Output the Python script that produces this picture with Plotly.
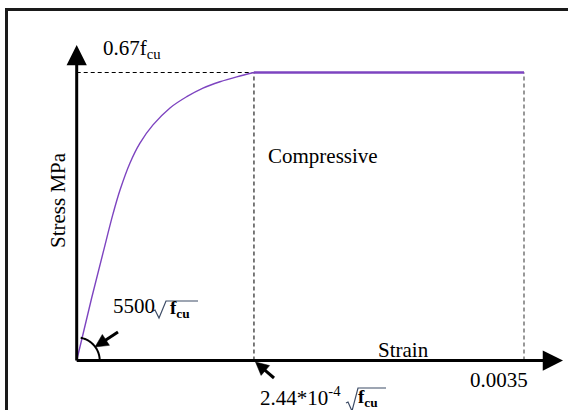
import numpy as np
import plotly.graph_objects as go

W, H = 568, 410

# Rising branch of the stress-strain curve: strain and stress as a fraction of 0.67 fcu
strain_curve = [0.0, 0.000117, 0.000208, 0.000284, 0.000339, 0.000417, 0.000495,
                0.000597, 0.000730, 0.000861, 0.000988, 0.001121, 0.001252, 0.001387]
stress_curve = [0.0, 0.217, 0.377, 0.509, 0.592, 0.686, 0.755,
                0.818, 0.877, 0.916, 0.946, 0.968, 0.985, 1.0]
strain_peak = 0.001387   # 2.44e-4 * sqrt(fcu)
strain_ult = 0.0035
stress_peak = 1.0

# Plot frame in pixels
OX, OY = 76.7, 360.5          # origin
PX_PER_STRAIN = 447.3 / strain_ult
PX_PER_STRESS = 288.0

x_range = [-OX / PX_PER_STRAIN, (W - OX) / PX_PER_STRAIN]
y_range = [-(H - OY) / PX_PER_STRESS, OY / PX_PER_STRESS]


def px(x):
    return x / W


def py(y):
    return 1 - y / H


PURPLE = "#7d44c0"
SERIF = "Liberation Serif, Times New Roman, serif"

fig = go.Figure()

# Dashed guides
fig.add_trace(go.Scatter(x=[0, strain_peak], y=[stress_peak, stress_peak], mode="lines",
                         line=dict(color="#000", width=1.1, dash="4px,3px"), hoverinfo="skip"))
fig.add_trace(go.Scatter(x=[strain_peak, strain_peak], y=[0, stress_peak], mode="lines",
                         line=dict(color="#111", width=1.1, dash="4px,3px"), hoverinfo="skip"))
fig.add_trace(go.Scatter(x=[strain_ult, strain_ult], y=[0, stress_peak], mode="lines",
                         line=dict(color="#444", width=1.1, dash="4px,3px"), hoverinfo="skip"))

# Parabolic branch and plateau
fig.add_trace(go.Scatter(x=strain_curve, y=stress_curve, mode="lines",
                         line=dict(color=PURPLE, width=1.4, shape="spline"), hoverinfo="skip"))
fig.add_trace(go.Scatter(x=[strain_peak, strain_ult], y=[stress_peak, stress_peak], mode="lines",
                         line=dict(color=PURPLE, width=2.4), hoverinfo="skip"))

shapes = []
# Outer frame
shapes.append(dict(type="rect", xref="paper", yref="paper",
                   x0=px(6.5), x1=1.05, y0=-0.05, y1=py(9.5),
                   line=dict(color="#1a1a1a", width=3), fillcolor="rgba(0,0,0,0)"))

# Angle arc at the origin
t = np.linspace(0, np.radians(80), 30)
r = 23
arc = "M " + " L ".join(f"{r*np.cos(a):.2f},{r*np.sin(a):.2f}" for a in t)
shapes.append(dict(type="path", xref="x", yref="y", xsizemode="pixel", ysizemode="pixel",
                   xanchor=0, yanchor=0, path=arc, line=dict(color="black", width=2)))

# Radical signs with vinculum
shapes.append(dict(type="path", xref="paper", yref="paper",
                   path=f"M {px(153)},{py(311)} L {px(155)},{py(310)} L {px(159)},{py(318)} "
                        f"L {px(166)},{py(301)} L {px(198)},{py(301)}",
                   line=dict(color="#3d4c66", width=1.2)))
shapes.append(dict(type="path", xref="paper", yref="paper",
                   path=f"M {px(346)},{py(403)} L {px(348)},{py(402)} L {px(352)},{py(411)} "
                        f"L {px(358)},{py(388)} L {px(386)},{py(388)}",
                   line=dict(color="#3d4c66", width=1.2)))


def pointer(tip, tail, head_len=13, head_half=6.5, width=3):
    """Straight shaft with a filled triangular head, in pixel positions."""
    tip = np.array(tip, float)
    tail = np.array(tail, float)
    d = (tip - tail) / np.linalg.norm(tip - tail)
    n = np.array([-d[1], d[0]])
    base = tip - d * head_len
    shapes.append(dict(type="line", xref="paper", yref="paper",
                       x0=px(tail[0]), y0=py(tail[1]),
                       x1=px(base[0] + d[0]), y1=py(base[1] + d[1]),
                       line=dict(color="black", width=width)))
    a = base + n * head_half
    b = base - n * head_half
    shapes.append(dict(type="path", xref="paper", yref="paper",
                       path=f"M {px(tip[0])},{py(tip[1])} L {px(a[0])},{py(a[1])} "
                            f"L {px(b[0])},{py(b[1])} Z",
                       fillcolor="black", line=dict(color="black", width=0.5)))


pointer((95, 347), (118, 332))
pointer((255.5, 362), (274, 378))

annotations = []


def arrow(tip, tail, width, size):
    annotations.append(dict(xref="paper", yref="paper", x=px(tip[0]), y=py(tip[1]),
                            axref="pixel", ayref="pixel",
                            ax=tail[0] - tip[0], ay=tail[1] - tip[1],
                            text="", showarrow=True, arrowhead=2,
                            arrowwidth=width, arrowsize=size, arrowcolor="black",
                            standoff=0, startstandoff=0))


# Axes with arrowheads
arrow((OX, 45), (OX, OY + 1.5), 3, 1.35)
arrow((563, OY), (OX - 1.5, OY), 3, 1.35)


def label(text, x, y, size=21, anchor="left", angle=0, color="black"):
    annotations.append(dict(xref="paper", yref="paper", x=px(x), y=py(y), text=text,
                            showarrow=False, xanchor=anchor, yanchor="middle",
                            textangle=angle,
                            font=dict(family=SERIF, size=size, color=color)))


label("0.67f<sub>cu</sub>", 101, 49)
label("Compressive", 266, 156)
label("Stress MPa", 58, 200, anchor="center", angle=-90)
label("Strain", 376, 350)
label("0.0035", 468, 380)
label("5500", 111, 306)
label("<b>f<sub>cu</sub></b>", 168, 309, size=19)
label("2.44*10<sup>-4</sup>", 258, 396)
label("<b>f<sub>cu</sub></b>", 356, 398, size=19)

fig.update_layout(
    width=W, height=H,
    margin=dict(l=0, r=0, t=0, b=0),
    paper_bgcolor="white", plot_bgcolor="white",
    showlegend=False,
    xaxis=dict(range=x_range, visible=False, fixedrange=True),
    yaxis=dict(range=y_range, visible=False, fixedrange=True),
    shapes=shapes,
    annotations=annotations,
)

fig.write_html("out.html")
